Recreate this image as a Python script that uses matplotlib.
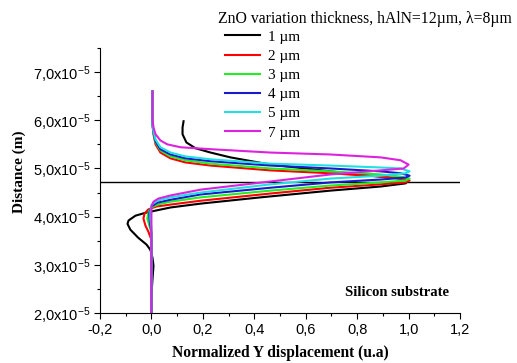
import matplotlib
matplotlib.use("Agg")
import matplotlib.pyplot as plt
from matplotlib.ticker import MultipleLocator, FixedLocator

plt.rcParams['mathtext.fontset'] = 'custom'
plt.rcParams['mathtext.rm'] = 'Liberation Sans'
plt.rcParams['mathtext.it'] = 'Liberation Sans:italic'

SCALE = 1e-5  # distance values below are in units of 1e-5 m

labels = ["1 µm", "2 µm", "3 µm", "4 µm", "5 µm", "7 µm"]
colors = ["#000000", "#ff0000", "#22ee22", "#1a1acc", "#22e0e0", "#dd22dd"]
legend_title = "ZnO variation thickness, hAlN=12µm, λ=8µm"

x_1um = [0.125, 0.121, 0.121, 0.136, 0.171, 0.230, 0.307, 0.463, 0.696, 0.891, 0.969, 1.0,
         0.988, 0.891, 0.696, 0.424, 0.191, 0.074, 0.016, -0.023, -0.062, -0.089, -0.093,
         -0.082, -0.051, -0.019, -0.004, 0.004, 0.008, 0.004, 0.0, 0.0]
d_1um = [5.98, 5.85, 5.71, 5.54, 5.42, 5.33, 5.23, 5.08, 4.94, 4.83, 4.79, 4.75,
         4.69, 4.625, 4.54, 4.40, 4.27, 4.19, 4.125, 4.08, 4.02, 3.92, 3.85,
         3.73, 3.56, 3.42, 3.31, 3.15, 2.98, 2.69, 2.375, 2.0]

x_2um = [0.004, 0.004, 0.008, 0.016, 0.035, 0.074, 0.132, 0.230, 0.463, 0.696, 0.891, 0.969, 1.004,
         0.988, 0.891, 0.696, 0.463, 0.191, 0.074, 0.019, -0.012, -0.027, -0.031, -0.023, -0.012,
         0.0, 0.0]
d_2um = [6.60, 5.92, 5.71, 5.50, 5.33, 5.21, 5.125, 5.06, 4.96, 4.90, 4.83, 4.79, 4.75,
         4.71, 4.67, 4.60, 4.48, 4.33, 4.25, 4.21, 4.15, 4.06, 3.96, 3.81, 3.69,
         3.52, 2.0]

x_3um = [0.004, 0.004, 0.008, 0.016, 0.035, 0.074, 0.132, 0.230, 0.463, 0.696, 0.891, 0.969, 1.004,
         0.988, 0.891, 0.696, 0.463, 0.191, 0.074, 0.023, 0.0, -0.012, -0.016, -0.008, 0.0, 0.0]
d_3um = [6.60, 5.92, 5.73, 5.54, 5.375, 5.25, 5.17, 5.10, 5.0, 4.94, 4.875, 4.83, 4.79,
         4.75, 4.71, 4.645, 4.54, 4.40, 4.31, 4.25, 4.19, 4.08, 3.96, 3.81, 3.67, 2.0]

x_4um = [0.004, 0.004, 0.008, 0.016, 0.035, 0.074, 0.132, 0.230, 0.463, 0.696, 0.891, 0.969, 1.004,
         0.988, 0.891, 0.696, 0.463, 0.191, 0.074, 0.023, 0.0, -0.008, -0.008, -0.004, 0.0, 0.0]
d_4um = [6.60, 5.92, 5.75, 5.56, 5.40, 5.29, 5.21, 5.15, 5.06, 5.0, 4.94, 4.90, 4.85,
         4.81, 4.77, 4.71, 4.60, 4.46, 4.35, 4.29, 4.21, 4.08, 3.96, 3.81, 3.67, 2.0]

x_5um = [0.004, 0.004, 0.008, 0.016, 0.035, 0.074, 0.132, 0.230, 0.463, 0.696, 0.891, 0.969, 1.004,
         0.988, 0.891, 0.696, 0.463, 0.191, 0.074, 0.023, 0.0, -0.004, -0.004, 0.0, 0.0]
d_5um = [6.60, 5.92, 5.77, 5.60, 5.44, 5.33, 5.25, 5.19, 5.10, 5.06, 5.02, 5.0, 4.94,
         4.90, 4.85, 4.79, 4.67, 4.50, 4.40, 4.33, 4.25, 4.10, 3.94, 3.77, 2.0]

x_7um = [0.004, 0.004, 0.008, 0.016, 0.035, 0.062, 0.113, 0.230, 0.463, 0.696, 0.891, 0.969, 1.0,
         0.981, 0.891, 0.696, 0.463, 0.191, 0.074, 0.027, 0.008, 0.0, 0.0]
d_7um = [6.60, 6.02, 5.85, 5.71, 5.58, 5.50, 5.44, 5.40, 5.33, 5.29, 5.23, 5.17, 5.08,
         5.0, 4.96, 4.875, 4.73, 4.56, 4.44, 4.375, 4.31, 4.21, 2.0]

interface_d = 4.71
xticks = [-0.2, 0.0, 0.2, 0.4, 0.6, 0.8, 1.0, 1.2]
yticks = [2.0, 3.0, 4.0, 5.0, 6.0, 7.0]

series_x = [x_1um, x_2um, x_3um, x_4um, x_5um, x_7um]
series_d = [d_1um, d_2um, d_3um, d_4um, d_5um, d_7um]

fig = plt.figure(figsize=(5.17, 3.63), dpi=100)
ax = fig.add_axes([100/517, 1 - 313/363, 360/517, (313 - 48)/363])

ax.axhline(interface_d * SCALE, color='black', lw=1.0)

handles = []
for xs, ds, c, lab in zip(series_x, series_d, colors, labels):
    h, = ax.plot(xs, [d * SCALE for d in ds], color=c, lw=1.5, label=lab,
                 solid_joinstyle='round')
    handles.append(h)

ax.set_xlim(-0.2, 1.2)
ax.set_ylim(2.0 * SCALE, 7.5 * SCALE)
for s in ['top', 'right']:
    ax.spines[s].set_visible(False)

ax.xaxis.set_major_locator(FixedLocator(xticks))
ax.xaxis.set_minor_locator(MultipleLocator(0.1))
ax.yaxis.set_major_locator(FixedLocator([v * SCALE for v in yticks]))
ax.yaxis.set_minor_locator(MultipleLocator(0.5 * SCALE))
ax.set_xticklabels([f"{v:.1f}".replace('.', ',') for v in xticks],
                   fontfamily='Liberation Sans', fontsize=10.5)
ax.set_yticklabels([f"{v:.1f}".replace('.', ',') + r"x10$^{-5}$" for v in yticks],
                   fontfamily='Liberation Sans', fontsize=10.5)
ax.tick_params(which='major', direction='out', length=4, width=0.8, pad=3)
ax.tick_params(which='minor', direction='out', length=2.5, width=0.8)

ax.set_xlabel("Normalized Y displacement (u.a)", fontfamily='Liberation Serif',
              fontweight='bold', fontsize=11.2, labelpad=6)
ax.set_ylabel("Distance (m)", fontfamily='Liberation Serif',
              fontweight='bold', fontsize=11)
ax.yaxis.set_label_coords(-0.205, 0.532)

ax.text(0.955, 2.42 * SCALE, "Silicon substrate", fontfamily='Liberation Serif',
        fontweight='bold', fontsize=10.5, ha='center', va='center')

fig.text(218/517, 1 - 19/363, legend_title, fontfamily='Liberation Serif',
         fontsize=11.3, ha='left', va='center')
leg = fig.legend(handles=handles, labels=labels, loc='upper left',
                 bbox_to_anchor=(225/517, 1 - 30/363), frameon=False,
                 prop={'family': 'Liberation Serif', 'size': 11},
                 handlelength=2.3, handletextpad=0.5,
                 labelspacing=0.36, borderpad=0.0, borderaxespad=0.0)

fig.savefig("out.png", dpi=100)
